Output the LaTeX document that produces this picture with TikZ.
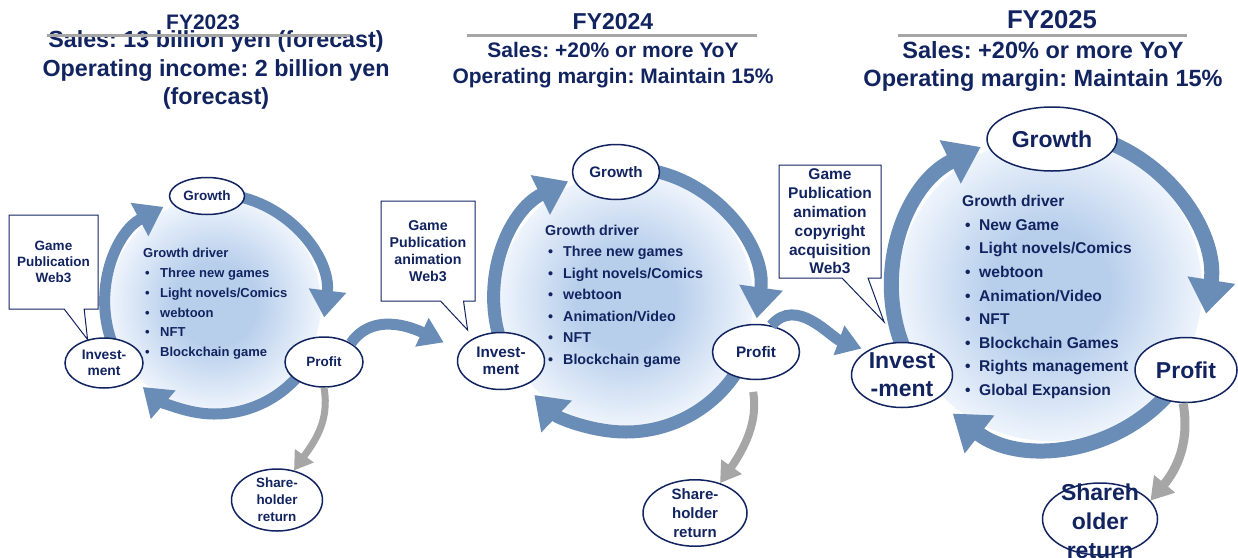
\documentclass[tikz,border=0pt]{standalone}
\usepackage{fontspec}
\setmainfont{Liberation Sans}
\usetikzlibrary{shapes.geometric,shapes.callouts,arrows.meta,calc}
\definecolor{navy}{RGB}{18,36,96}
\definecolor{steel}{RGB}{106,141,184}
\definecolor{payout}{RGB}{166,166,166}
\definecolor{discin}{RGB}{184,207,236}
\definecolor{discout}{RGB}{238,244,252}
\pgfdeclareradialshading{discshade}{\pgfpoint{0bp}{0bp}}{color(0bp)=(discin); color(10bp)=(discin); color(25bp)=(discout); color(50bp)=(discout)}
\newcommand{\setfs}[2]{\fontsize{#1}{#2}\selectfont}
\frenchspacing
\tikzset{
    stage-node/.style = {ellipse, draw=navy, fill=white, line width=1.5pt, inner sep=0pt, text=navy, align=center},
    note-box/.style = {rectangle callout, draw=navy, fill=white, line width=1pt, inner sep=0pt, text=navy, align=center},
    driver-list/.style = {inner sep=0pt, text=navy, anchor=north west},
    head-text/.style = {inner sep=0pt, text=navy, align=center},
    head-rule/.style = {draw=payout, line width=3pt},
    cycle-arrow/.style n args = {3}{draw=steel, line width=#1, -{Triangle[width=#2, length=#3]}},
    payout-arrow/.style n args = {3}{draw=payout, line width=#1, -{Triangle[width=#2, length=#3]}},
}
\begin{document}
\begin{tikzpicture}[x=1pt, y=1pt]
\path[use as bounding box, fill=white] (0,0) rectangle (1238,-557);

\node[head-text, font=\bfseries\setfs{21}{25}] (fy23) at (203,-22) {FY2023};
\node[head-text, font=\bfseries\setfs{23.3}{28.5}] (target23) at (216,-70) {Sales: 13 billion yen (forecast)\\Operating income: 2 billion yen\\(forecast)};
\draw[head-rule] (47,-35) -- (350,-35);
\node[head-text, font=\bfseries\setfs{23}{27}] (fy24) at (613,-22) {FY2024};
\draw[head-rule] (467,-35) -- (757,-35);
\node[head-text, font=\bfseries\setfs{21}{26}] (target24) at (613,-65) {Sales: +20\% or more YoY\\Operating margin: Maintain 15\%};
\node[head-text, font=\bfseries\setfs{25.7}{30}] (fy25) at (1052,-20) {FY2025};
\draw[head-rule] (898,-35) -- (1187,-35);
\node[head-text, font=\bfseries\setfs{23.5}{28}] (target25) at (1043,-66) {Sales: +20\% or more YoY\\Operating margin: Maintain 15\%};

\coordinate (hub1) at (215,-304);
\coordinate (hub2) at (626,-300);
\coordinate (hub3) at (1050,-289);
\shade[shading=discshade] (hub1) circle[radius=106];
\shade[shading=discshade] (hub2) circle[radius=127];
\shade[shading=discshade] (hub3) circle[radius=152];

\draw[cycle-arrow={11pt}{36pt}{27pt}] (hub1) ++(200:110) arc[start angle=200, end angle=118, radius=110];
\draw[cycle-arrow={11pt}{36pt}{27pt}] (hub1) ++(80:110) arc[start angle=80, end angle=-7, radius=110];
\draw[cycle-arrow={11pt}{36pt}{27pt}] (hub1) ++(-40:110) arc[start angle=-40, end angle=-131, radius=110];
\draw[cycle-arrow={13pt}{42pt}{31pt}] (hub2) ++(200:132) arc[start angle=200, end angle=116, radius=132];
\draw[cycle-arrow={13pt}{42pt}{31pt}] (hub2) ++(78:132) arc[start angle=78, end angle=-8, radius=132];
\draw[cycle-arrow={13pt}{42pt}{31pt}] (hub2) ++(-32:132) arc[start angle=-32, end angle=-134, radius=132];
\draw[cycle-arrow={15pt}{46pt}{34pt}] (hub3) ++(205:158) arc[start angle=205, end angle=116, radius=158];
\draw[cycle-arrow={15pt}{46pt}{34pt}] (hub3) ++(72:158) arc[start angle=72, end angle=-9, radius=158];
\draw[cycle-arrow={15pt}{46pt}{34pt}] (hub3) ++(-42:158) arc[start angle=-42, end angle=-128, radius=158];

\node[driver-list, font=\bfseries\setfs{13}{19.7}] (drivers1) at (143,-244) {\begin{tabular}{@{\hspace{2pt}}p{15pt}@{}l@{}}
\multicolumn{2}{@{}l@{}}{Growth driver}\\
\textbullet & Three new games\\
\textbullet & Light novels/Comics\\
\textbullet & webtoon\\
\textbullet & NFT\\
\textbullet & Blockchain game
\end{tabular}};
\node[driver-list, font=\bfseries\setfs{14.3}{21.5}] (drivers2) at (545,-220) {\begin{tabular}{@{\hspace{3pt}}p{15pt}@{}l@{}}
\multicolumn{2}{@{}l@{}}{Growth driver}\\
\textbullet & Three new games\\
\textbullet & Light novels/Comics\\
\textbullet & webtoon\\
\textbullet & Animation/Video\\
\textbullet & NFT\\
\textbullet & Blockchain game
\end{tabular}};
\node[driver-list, font=\bfseries\setfs{15.6}{23.6}] (drivers3) at (962,-190) {\begin{tabular}{@{\hspace{3pt}}p{14pt}@{}l@{}}
\multicolumn{2}{@{}l@{}}{Growth driver}\\
\textbullet & New Game\\
\textbullet & Light novels/Comics\\
\textbullet & webtoon\\
\textbullet & Animation/Video\\
\textbullet & NFT\\
\textbullet & Blockchain Games\\
\textbullet & Rights management\\
\textbullet & Global Expansion
\end{tabular}};

\node[stage-node, minimum width=75pt, minimum height=37pt, font=\bfseries\setfs{13.5}{15}] (growth1) at (207,-196) {Growth};
\node[stage-node, minimum width=78pt, minimum height=50pt, font=\bfseries\setfs{13.8}{15.5}] (invest1) at (104,-363) {Invest-\\ment};
\node[stage-node, minimum width=78pt, minimum height=50pt, font=\bfseries\setfs{13.5}{15}] (profit1) at (324,-362) {Profit};
\node[stage-node, minimum width=91pt, minimum height=60pt, font=\bfseries\setfs{13.4}{17}] (return1) at (277,-500) {Share-\\holder\\return};

\node[stage-node, minimum width=87pt, minimum height=55pt, font=\bfseries\setfs{15.2}{17}] (growth2) at (616,-172) {Growth};
\node[stage-node, minimum width=87pt, minimum height=57pt, font=\bfseries\setfs{15.3}{17}] (invest2) at (501,-361) {Invest-\\ment};
\node[stage-node, minimum width=87pt, minimum height=55pt, font=\bfseries\setfs{15.3}{17}] (profit2) at (756,-352) {Profit};
\node[stage-node, minimum width=104pt, minimum height=65pt, inner ysep=-1pt, font=\bfseries\setfs{15}{19}] (return2) at (695,-513) {Share-\\holder\\return};

\node[stage-node, minimum width=130pt, minimum height=64pt, font=\bfseries\setfs{23}{28}] (growth3) at (1052,-139) {Growth};
\node[stage-node, minimum width=101pt, minimum height=65pt, inner ysep=-2pt, font=\bfseries\setfs{23}{28}] (invest3) at (902,-375) {Invest\\-ment};
\node[stage-node, minimum width=102pt, minimum height=65pt, font=\bfseries\setfs{23}{28}] (profit3) at (1186,-370) {Profit};
\node[stage-node, minimum width=115pt, minimum height=72pt, font=\bfseries\setfs{23}{29}] (return3) at (1100,-519) {\smash{\raisebox{-11pt}{\begin{tabular}{@{}c@{}}Shareh\\older\\return\end{tabular}}}};

\node[note-box, minimum width=89pt, minimum height=94pt, callout pointer width=20pt, callout absolute pointer={(invest1.125)}, font=\bfseries\setfs{13.5}{16}] (note1) at (53.5,-262) {Game\\Publication\\Web3};
\node[note-box, minimum width=94pt, minimum height=100pt, callout pointer width=23pt, callout absolute pointer={($(invest2.140)+(-6,8)$)}, font=\bfseries\setfs{14.2}{17}] (note2) at (428,-251) {Game\\Publication\\animation\\Web3};
\node[note-box, minimum width=102pt, minimum height=113pt, callout pointer width=26pt, callout absolute pointer={($(invest3.120)+(0,22)$)}, font=\bfseries\setfs{15.5}{18.8}] (note3) at (830,-221.5) {Game\\Publication\\animation\\copyright\\acquisition\\Web3};

\draw[cycle-arrow={11pt}{30pt}{24pt}, shorten >=18pt] (profit1.35) to[out=55, in=155] (invest2.165);
\draw[cycle-arrow={11pt}{30pt}{24pt}, shorten >=6pt] (profit2.60) to[out=50, in=160] (invest3.145);

\draw[payout-arrow={7pt}{22pt}{18pt}] (profit1.south) to[out=-80, in=55] (return1.60);
\draw[payout-arrow={8pt}{24pt}{20pt}, shorten <=12pt] (profit2.-100) to[out=-80, in=55] (return2.50);
\draw[payout-arrow={9pt}{26pt}{22pt}] (profit3.-95) to[out=-80, in=50] (return3.20);
\end{tikzpicture}
\end{document}
